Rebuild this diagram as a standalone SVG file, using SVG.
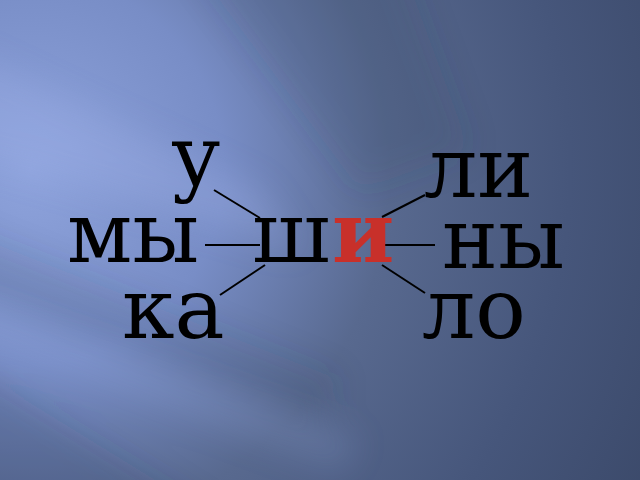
<svg xmlns="http://www.w3.org/2000/svg" width="640" height="480" viewBox="0 0 640 480">
<defs>
<radialGradient id="bg" gradientUnits="userSpaceOnUse" cx="30" cy="170" r="720">
<stop offset="0" stop-color="#8ea3dc"/>
<stop offset="0.27" stop-color="#788dc6"/>
<stop offset="0.5" stop-color="#58698f"/>
<stop offset="0.75" stop-color="#46567b"/>
<stop offset="1" stop-color="#3a4868"/>
</radialGradient>
<filter id="blur" filterUnits="userSpaceOnUse" x="-100" y="-100" width="840" height="680"><feGaussianBlur stdDeviation="16"/></filter>
<style>
.w{font-family:"DejaVu Serif","Liberation Serif",serif;font-size:84px;fill:#000}
.r{font-family:"DejaVu Serif","Liberation Serif",serif;font-size:84px;font-weight:bold;fill:#c8302a}
.c{stroke:#000;stroke-width:2;fill:none}
.lt{fill:#a4b8f0}
.dk{fill:#2e3a58}
</style>
</defs>
<rect width="640" height="480" fill="url(#bg)"/>
<g filter="url(#blur)">
<polygon class="dk" points="190,-40 400,-40 470,150 360,190" opacity="0.16"/>
<polygon class="lt" points="-40,50 -40,150 300,250 260,190" opacity="0.25"/>
<polygon class="dk" points="-40,230 -40,300 320,430 340,380" opacity="0.16"/>
<polygon class="lt" points="-40,300 -40,330 340,470 360,440" opacity="0.16"/>
<polygon class="dk" points="-40,360 -40,520 220,520" opacity="0.2"/>
</g>
<g id="connectors">
<line class="c" x1="214" y1="190" x2="260" y2="218"/>
<line class="c" x1="205" y1="245" x2="260" y2="245"/>
<line class="c" x1="265" y1="265" x2="220" y2="295"/>
<line class="c" x1="382" y1="217" x2="425" y2="195"/>
<line class="c" x1="382" y1="245" x2="435" y2="245"/>
<line class="c" x1="382" y1="265" x2="425" y2="293"/>
</g>
<g id="center"><text class="w" x="252" y="262">ш</text><text class="r" x="332" y="262">и</text></g>
<g id="n-u"><text class="w" x="171" y="185">у</text></g>
<g id="n-my"><text class="w" x="67" y="262">мы</text></g>
<g id="n-ka"><text class="w" x="122" y="338">ка</text></g>
<g id="n-li"><text class="w" x="424" y="197">ли</text></g>
<g id="n-ny"><text class="w" x="442" y="268">ны</text></g>
<g id="n-lo"><text class="w" x="422" y="338">ло</text></g>
</svg>
